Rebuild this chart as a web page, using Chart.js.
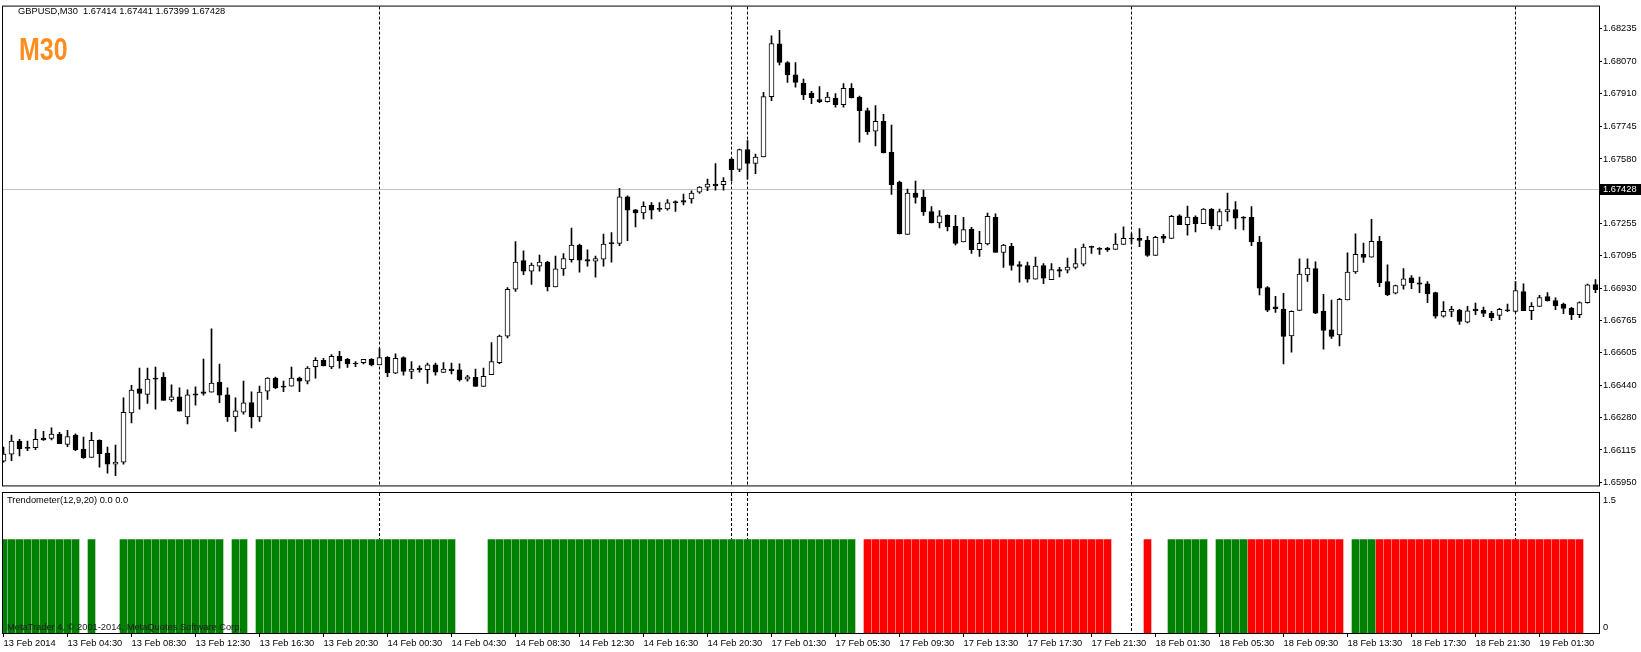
<!DOCTYPE html>
<html>
<head>
<meta charset="utf-8">
<title>GBPUSD,M30</title>
<script src="https://cdn.jsdelivr.net/npm/chart.js@4.4.0/dist/chart.umd.min.js"></script>
<style>
  body { margin: 0; background: #fff; width: 1641px; height: 652px; overflow: hidden; position: relative; font-family: 'Liberation Sans', Arial, sans-serif; }
  canvas { position: absolute; left: 0; }
  #price-chart { top: 0; }
  #trend-chart { top: 490px; }
  .label { position: absolute; font-size: 9.3px; line-height: 12px; color: #000; white-space: pre; z-index: 2; }
  #symbol { left: 18px; top: 5px; }
  #timeframe { left: 19px; top: 33px; font-size: 32px; line-height: 32px; font-weight: bold; color: #ff8c1e; transform: scaleX(0.78); transform-origin: left top; }
  #indicator-name { left: 7px; top: 494px; }
  #copyright { left: 7px; top: 621px; color: #1a1a1a; }
</style>
</head>
<body>
<canvas id="price-chart" width="1641" height="492"></canvas>
<canvas id="trend-chart" width="1641" height="162"></canvas>
<div class="label" id="symbol">GBPUSD,M30  1.67414 1.67441 1.67399 1.67428</div>
<div class="label" id="timeframe">M30</div>
<div class="label" id="indicator-name">Trendometer(12,9,20) 0.0 0.0</div>
<div class="label" id="copyright">MetaTrader 4, © 2001-2014, MetaQuotes Software Corp.</div>
<script>
// GBPUSD M30 bars, 13 Feb 2014 00:30 .. 19 Feb 2014 05:00
const opens = [
  1.66059,1.66094,1.66160,1.66130,1.66127,1.66175,1.66173,1.66195,1.66143,1.66190,
  1.66119,1.66077,1.66163,1.66100,1.66044,1.66054,1.66302,1.66423,1.66395,1.66477,
  1.66482,1.66367,1.66383,1.66282,1.66398,1.66408,1.66406,1.66457,1.66393,1.66282,
  1.66305,1.66353,1.66281,1.66411,1.66477,1.66437,1.66436,1.66477,1.66461,1.66535,
  1.66566,1.66533,1.66586,1.66571,1.66550,1.66555,1.66571,1.66543,1.66581,1.66502,
  1.66580,1.66511,1.66527,1.66519,1.66544,1.66506,1.66522,1.66518,1.66471,1.66481,
  1.66435,1.66494,1.66555,1.66688,1.66924,1.67068,1.67015,1.67040,1.67061,1.66936,
  1.67027,1.67073,1.67146,1.67073,1.67066,1.67076,1.67159,1.67155,1.67390,1.67324,
  1.67308,1.67346,1.67329,1.67329,1.67365,1.67370,1.67379,1.67413,1.67438,1.67453,
  1.67451,1.67580,1.67527,1.67627,1.67557,1.67590,1.67894,1.68159,1.68065,1.68003,
  1.67962,1.67910,1.67879,1.67869,1.67886,1.67853,1.67935,1.67891,1.67824,1.67720,
  1.67770,1.67613,1.67464,1.67200,1.67408,1.67388,1.67315,1.67258,1.67296,1.67241,
  1.67163,1.67226,1.67124,1.67152,1.67286,1.67109,1.67142,1.67048,1.67043,1.66975,
  1.67043,1.66972,1.67023,1.67020,1.67034,1.67051,1.67139,1.67129,1.67132,1.67125,
  1.67150,1.67178,1.67180,1.67170,1.67094,1.67191,1.67180,1.67294,1.67249,1.67287,
  1.67254,1.67328,1.67243,1.67314,1.67325,1.67284,1.67286,1.67162,1.66933,1.66836,
  1.66824,1.66689,1.66818,1.66996,1.67028,1.66814,1.66720,1.66694,1.66871,1.67011,
  1.67100,1.67085,1.67165,1.66963,1.66904,1.66943,1.66981,1.66957,1.66952,1.66907,
  1.66788,1.66813,1.66819,1.66758,1.66824,1.66819,1.66803,1.66793,1.66818,1.66813,
  1.66912,1.66816,1.66838,1.66887,1.66867,1.66849,1.66828,1.66796,1.66857,1.66948
];
const highs = [
  1.66130,1.66190,1.66168,1.66160,1.66219,1.66209,1.66226,1.66204,1.66214,1.66196,
  1.66180,1.66204,1.66166,1.66130,1.66140,1.66378,1.66441,1.66527,1.66527,1.66532,
  1.66505,1.66443,1.66428,1.66418,1.66433,1.66573,1.66725,1.66547,1.66428,1.66378,
  1.66462,1.66408,1.66437,1.66480,1.66482,1.66462,1.66532,1.66482,1.66535,1.66580,
  1.66576,1.66595,1.66611,1.66576,1.66560,1.66571,1.66575,1.66626,1.66585,1.66599,
  1.66584,1.66560,1.66539,1.66552,1.66552,1.66555,1.66552,1.66549,1.66491,1.66522,
  1.66527,1.66656,1.66693,1.66932,1.67164,1.67117,1.67056,1.67096,1.67065,1.67091,
  1.67104,1.67232,1.67151,1.67122,1.67091,1.67202,1.67210,1.67432,1.67394,1.67327,
  1.67364,1.67360,1.67360,1.67375,1.67369,1.67403,1.67420,1.67441,1.67479,1.67557,
  1.67486,1.67585,1.67630,1.67673,1.67605,1.67916,1.68200,1.68227,1.68070,1.68065,
  1.67982,1.67920,1.67944,1.67915,1.67909,1.67960,1.67960,1.67896,1.67836,1.67849,
  1.67805,1.67750,1.67469,1.67428,1.67469,1.67423,1.67340,1.67320,1.67299,1.67296,
  1.67286,1.67236,1.67216,1.67307,1.67304,1.67150,1.67155,1.67064,1.67061,1.67086,
  1.67053,1.67053,1.67034,1.67081,1.67129,1.67152,1.67142,1.67134,1.67135,1.67205,
  1.67238,1.67205,1.67229,1.67191,1.67191,1.67201,1.67296,1.67299,1.67343,1.67294,
  1.67330,1.67330,1.67328,1.67408,1.67365,1.67290,1.67340,1.67191,1.66937,1.66889,
  1.66904,1.66816,1.67077,1.67077,1.67062,1.66899,1.66869,1.66879,1.67107,1.67203,
  1.67157,1.67276,1.67191,1.67047,1.66945,1.67028,1.66993,1.66986,1.66963,1.66910,
  1.66862,1.66838,1.66823,1.66838,1.66854,1.66834,1.66813,1.66828,1.66849,1.66963,
  1.66952,1.66857,1.66894,1.66907,1.66881,1.66854,1.66833,1.66861,1.66950,1.66973
];
const lows = [
  1.66054,1.66061,1.66085,1.66112,1.66117,1.66163,1.66166,1.66147,1.66132,1.66112,
  1.66072,1.66077,1.66028,1.65998,1.65986,1.66044,1.66251,1.66320,1.66350,1.66320,
  1.66365,1.66360,1.66310,1.66246,1.66340,1.66391,1.66406,1.66353,1.66259,1.66209,
  1.66295,1.66226,1.66259,1.66370,1.66424,1.66408,1.66436,1.66408,1.66447,1.66477,
  1.66538,1.66524,1.66527,1.66530,1.66535,1.66548,1.66538,1.66543,1.66484,1.66499,
  1.66491,1.66474,1.66507,1.66450,1.66491,1.66506,1.66498,1.66461,1.66461,1.66435,
  1.66435,1.66494,1.66550,1.66679,1.66913,1.66998,1.66949,1.67015,1.66916,1.66936,
  1.66994,1.67060,1.67010,1.67040,1.66985,1.67040,1.67060,1.67144,1.67169,1.67238,
  1.67278,1.67278,1.67316,1.67322,1.67316,1.67349,1.67357,1.67407,1.67420,1.67423,
  1.67423,1.67470,1.67516,1.67478,1.67506,1.67590,1.67873,1.68053,1.67965,1.67941,
  1.67879,1.67858,1.67863,1.67866,1.67841,1.67841,1.67887,1.67664,1.67704,1.67646,
  1.67610,1.67401,1.67203,1.67200,1.67357,1.67296,1.67258,1.67233,1.67218,1.67147,
  1.67163,1.67105,1.67089,1.67147,1.67109,1.67034,1.67020,1.66960,1.66960,1.66975,
  1.66952,1.66972,1.66986,1.67006,1.67026,1.67041,1.67105,1.67100,1.67114,1.67125,
  1.67150,1.67152,1.67139,1.67089,1.67094,1.67158,1.67180,1.67249,1.67196,1.67213,
  1.67254,1.67228,1.67223,1.67267,1.67228,1.67223,1.67143,1.66895,1.66811,1.66808,
  1.66548,1.66608,1.66818,1.66963,1.66801,1.66623,1.66677,1.66639,1.66871,1.67004,
  1.67059,1.67085,1.66937,1.66892,1.66900,1.66924,1.66927,1.66907,1.66856,1.66778,
  1.66783,1.66786,1.66747,1.66755,1.66796,1.66786,1.66766,1.66771,1.66811,1.66809,
  1.66816,1.66771,1.66838,1.66864,1.66821,1.66801,1.66771,1.66781,1.66854,1.66907
];
const closes = [
  1.66094,1.66160,1.66122,1.66123,1.66168,1.66166,1.66195,1.66147,1.66183,1.66117,
  1.66076,1.66163,1.66097,1.66044,1.66054,1.66304,1.66416,1.66400,1.66472,1.66471,
  1.66365,1.66383,1.66310,1.66393,1.66391,1.66400,1.66452,1.66391,1.66281,1.66312,
  1.66352,1.66281,1.66406,1.66477,1.66429,1.66431,1.66477,1.66461,1.66527,1.66566,
  1.66538,1.66586,1.66563,1.66548,1.66548,1.66571,1.66543,1.66580,1.66504,1.66576,
  1.66511,1.66522,1.66519,1.66544,1.66507,1.66522,1.66514,1.66469,1.66483,1.66435,
  1.66486,1.66560,1.66689,1.66924,1.67061,1.67015,1.67046,1.67061,1.66936,1.67027,
  1.67078,1.67146,1.67070,1.67065,1.67078,1.67151,1.67154,1.67390,1.67322,1.67308,
  1.67341,1.67322,1.67326,1.67359,1.67359,1.67362,1.67408,1.67438,1.67453,1.67445,
  1.67468,1.67526,1.67627,1.67557,1.67590,1.67894,1.68161,1.68066,1.68003,1.67965,
  1.67902,1.67889,1.67869,1.67891,1.67853,1.67935,1.67887,1.67823,1.67717,1.67770,
  1.67610,1.67451,1.67203,1.67408,1.67386,1.67314,1.67258,1.67294,1.67238,1.67155,
  1.67224,1.67124,1.67155,1.67291,1.67109,1.67147,1.67044,1.67039,1.66975,1.67041,
  1.66980,1.67023,1.67015,1.67036,1.67053,1.67137,1.67135,1.67125,1.67124,1.67152,
  1.67180,1.67177,1.67170,1.67094,1.67185,1.67180,1.67291,1.67249,1.67287,1.67254,
  1.67328,1.67243,1.67315,1.67325,1.67282,1.67282,1.67163,1.66930,1.66819,1.66826,
  1.66687,1.66813,1.67001,1.67031,1.66804,1.66717,1.66687,1.66874,1.67011,1.67100,
  1.67084,1.67165,1.66957,1.66895,1.66942,1.66976,1.66957,1.66950,1.66900,1.66788,
  1.66813,1.66823,1.66762,1.66816,1.66816,1.66803,1.66781,1.66823,1.66816,1.66917,
  1.66816,1.66838,1.66882,1.66867,1.66841,1.66828,1.66796,1.66857,1.66947,1.66922
];

// Trendometer: 1 = up (green), -1 = down (red), 0 = no bar
const trend = [
  1,1,1,1,1,1,1,1,1,1,
  0,1,0,0,0,1,1,1,1,1,
  1,1,1,1,1,1,1,1,0,1,
  1,0,1,1,1,1,1,1,1,1,
  1,1,1,1,1,1,1,1,1,1,
  1,1,1,1,1,1,1,0,0,0,
  0,1,1,1,1,1,1,1,1,1,
  1,1,1,1,1,1,1,1,1,1,
  1,1,1,1,1,1,1,1,1,1,
  1,1,1,1,1,1,1,1,1,1,
  1,1,1,1,1,1,1,0,-1,-1,
  -1,-1,-1,-1,-1,-1,-1,-1,-1,-1,
  -1,-1,-1,-1,-1,-1,-1,-1,-1,-1,
  -1,-1,-1,-1,-1,-1,-1,-1,-1,0,
  0,0,0,-1,0,0,1,1,1,1,
  1,0,1,1,1,1,-1,-1,-1,-1,
  -1,-1,-1,-1,-1,-1,-1,-1,0,1,
  1,1,-1,-1,-1,-1,-1,-1,-1,-1,
  -1,-1,-1,-1,-1,-1,-1,-1,-1,-1,
  -1,-1,-1,-1,-1,-1,-1,-1,0,0
];
const trendLevels = ['1.5', '0'];

const priceTicks = [1.68235, 1.68070, 1.67910, 1.67745, 1.67580, 1.67255, 1.67095,
  1.66930, 1.66765, 1.66605, 1.66440, 1.66280, 1.66115, 1.65950];
const bidPrice = 1.67428;

const timeLabels = ['13 Feb 2014', '13 Feb 04:30', '13 Feb 08:30', '13 Feb 12:30', '13 Feb 16:30',
  '13 Feb 20:30', '14 Feb 00:30', '14 Feb 04:30', '14 Feb 08:30', '14 Feb 12:30', '14 Feb 16:30',
  '14 Feb 20:30', '17 Feb 01:30', '17 Feb 05:30', '17 Feb 09:30', '17 Feb 13:30', '17 Feb 17:30',
  '17 Feb 21:30', '18 Feb 01:30', '18 Feb 05:30', '18 Feb 09:30', '18 Feb 13:30', '18 Feb 17:30',
  '18 Feb 21:30', '19 Feb 01:30'];
const timeTickBars = [0, 8, 16, 24, 32, 40, 48, 56, 64, 72, 80, 88, 96, 104, 112, 120, 128,
  136, 144, 152, 160, 168, 176, 184, 192];
const daySeparators = [47, 91, 93, 141, 189];

const FONT = 'Liberation Sans';
const X_MIN = -0.0625;
const X_MAX = 199.4375;

function drawSeparators(chart) {
  const { ctx, chartArea, scales } = chart;
  ctx.save();
  ctx.strokeStyle = '#000';
  ctx.lineWidth = 1;
  ctx.setLineDash([3, 2]);
  daySeparators.forEach(i => {
    const x = Math.floor(scales.x.getPixelForValue(i)) + 0.5;
    ctx.beginPath();
    ctx.moveTo(x, chartArea.top);
    ctx.lineTo(x, chartArea.bottom);
    ctx.stroke();
  });
  ctx.restore();
}

function drawFrame(chart) {
  const { ctx, chartArea } = chart;
  ctx.save();
  ctx.strokeStyle = '#000';
  ctx.lineWidth = 1;
  ctx.strokeRect(chartArea.left - 0.5, chartArea.top - 0.5,
    chartArea.right - chartArea.left + 1, chartArea.bottom - chartArea.top + 1);
  ctx.restore();
}

const priceDecor = {
  id: 'priceDecor',
  beforeDatasetsDraw(chart) {
    const { ctx, chartArea, scales } = chart;
    drawSeparators(chart);
    const y = Math.floor(scales.y.getPixelForValue(bidPrice)) + 0.5;
    ctx.save();
    ctx.strokeStyle = '#c0c0c0';
    ctx.beginPath();
    ctx.moveTo(chartArea.left, y);
    ctx.lineTo(chartArea.right, y);
    ctx.stroke();
    ctx.restore();
  },
  afterDraw(chart) {
    const { ctx, chartArea, scales } = chart;
    drawFrame(chart);
    const y = Math.floor(scales.y.getPixelForValue(bidPrice));
    ctx.save();
    ctx.fillStyle = '#000';
    ctx.fillRect(chartArea.right + 1, y - 5, 41, 11);
    ctx.fillStyle = '#fff';
    ctx.font = '9.3px "' + FONT + '"';
    ctx.textBaseline = 'middle';
    ctx.fillText(bidPrice.toFixed(5), chartArea.right + 4, y + 0.5);
    ctx.restore();
  }
};

const trendDecor = {
  id: 'trendDecor',
  beforeDatasetsDraw(chart) {
    drawSeparators(chart);
  },
  afterDraw(chart) {
    const { ctx, chartArea } = chart;
    drawFrame(chart);
    ctx.save();
    ctx.fillStyle = '#000';
    ctx.font = '9.3px "' + FONT + '"';
    ctx.textBaseline = 'middle';
    ctx.fillText(trendLevels[0], chartArea.right + 4, chartArea.top + 7);
    ctx.fillText(trendLevels[1], chartArea.right + 4, chartArea.bottom - 6);
    ctx.restore();
  }
};

const barIndex = opens.map((o, i) => i);

const priceChart = new Chart(document.getElementById('price-chart'), {
  type: 'bar',
  data: {
    datasets: [{
      label: 'Body',
      data: barIndex.map(i => ({ x: i, y: [opens[i], closes[i]] })),
      grouped: false,
      barThickness: 5,
      minBarLength: 1,
      borderWidth: 1,
      borderSkipped: false,
      borderColor: '#000',
      backgroundColor: ctx => closes[ctx.dataIndex] >= opens[ctx.dataIndex] ? '#fff' : '#000'
    }, {
      label: 'Wick',
      data: barIndex.map(i => ({ x: i, y: [lows[i], highs[i]] })),
      grouped: false,
      barThickness: 1,
      minBarLength: 1,
      borderWidth: 0,
      backgroundColor: '#000'
    }]
  },
  options: {
    responsive: false,
    animation: false,
    layout: { padding: { left: 3, top: 3, bottom: 3, right: 0 } },
    scales: {
      x: {
        type: 'linear',
        min: X_MIN,
        max: X_MAX,
        offset: false,
        display: false,
        grid: { offset: false }
      },
      y: {
        position: 'right',
        min: 1.659366,
        max: 1.683471,
        afterBuildTicks: scale => { scale.ticks = priceTicks.map(v => ({ value: v })); },
        afterFit: scale => { scale.width = 42; },
        border: { display: false },
        grid: { drawOnChartArea: false, drawTicks: true, tickLength: 3, tickColor: '#000' },
        ticks: {
          autoSkip: false,
          padding: 1,
          color: '#000',
          font: { family: FONT, size: 9.3 },
          callback: value => value.toFixed(5)
        }
      }
    },
    plugins: {
      legend: { display: false },
      tooltip: { enabled: false }
    }
  },
  plugins: [priceDecor]
});

const trendChart = new Chart(document.getElementById('trend-chart'), {
  type: 'bar',
  data: {
    datasets: [{
      label: 'Up',
      data: barIndex.map(i => ({ x: i, y: trend[i] === 1 ? 1 : null })),
      grouped: false,
      barThickness: 7,
      borderWidth: 0,
      backgroundColor: '#008000'
    }, {
      label: 'Down',
      data: barIndex.map(i => ({ x: i, y: trend[i] === -1 ? 1 : null })),
      grouped: false,
      barThickness: 7,
      borderWidth: 0,
      backgroundColor: '#ff0000'
    }]
  },
  options: {
    responsive: false,
    animation: false,
    layout: { padding: { left: 3, top: 3, bottom: 0, right: 42 } },
    scales: {
      x: {
        type: 'linear',
        min: X_MIN,
        max: X_MAX,
        offset: false,
        afterBuildTicks: scale => { scale.ticks = timeTickBars.map(v => ({ value: v })); },
        afterFit: scale => { scale.height = 19; },
        border: { display: false },
        grid: { offset: false, drawOnChartArea: false, drawTicks: true, tickLength: 4, tickColor: '#000' },
        ticks: {
          autoSkip: false,
          maxRotation: 0,
          minRotation: 0,
          align: 'start',
          labelOffset: 0,
          padding: 1,
          color: '#000',
          font: { family: FONT, size: 9.3 },
          callback: (value, index) => timeLabels[index]
        }
      },
      y: {
        min: 0,
        max: 1.5,
        display: false
      }
    },
    plugins: {
      legend: { display: false },
      tooltip: { enabled: false }
    }
  },
  plugins: [trendDecor]
});
</script>
</body>
</html>
